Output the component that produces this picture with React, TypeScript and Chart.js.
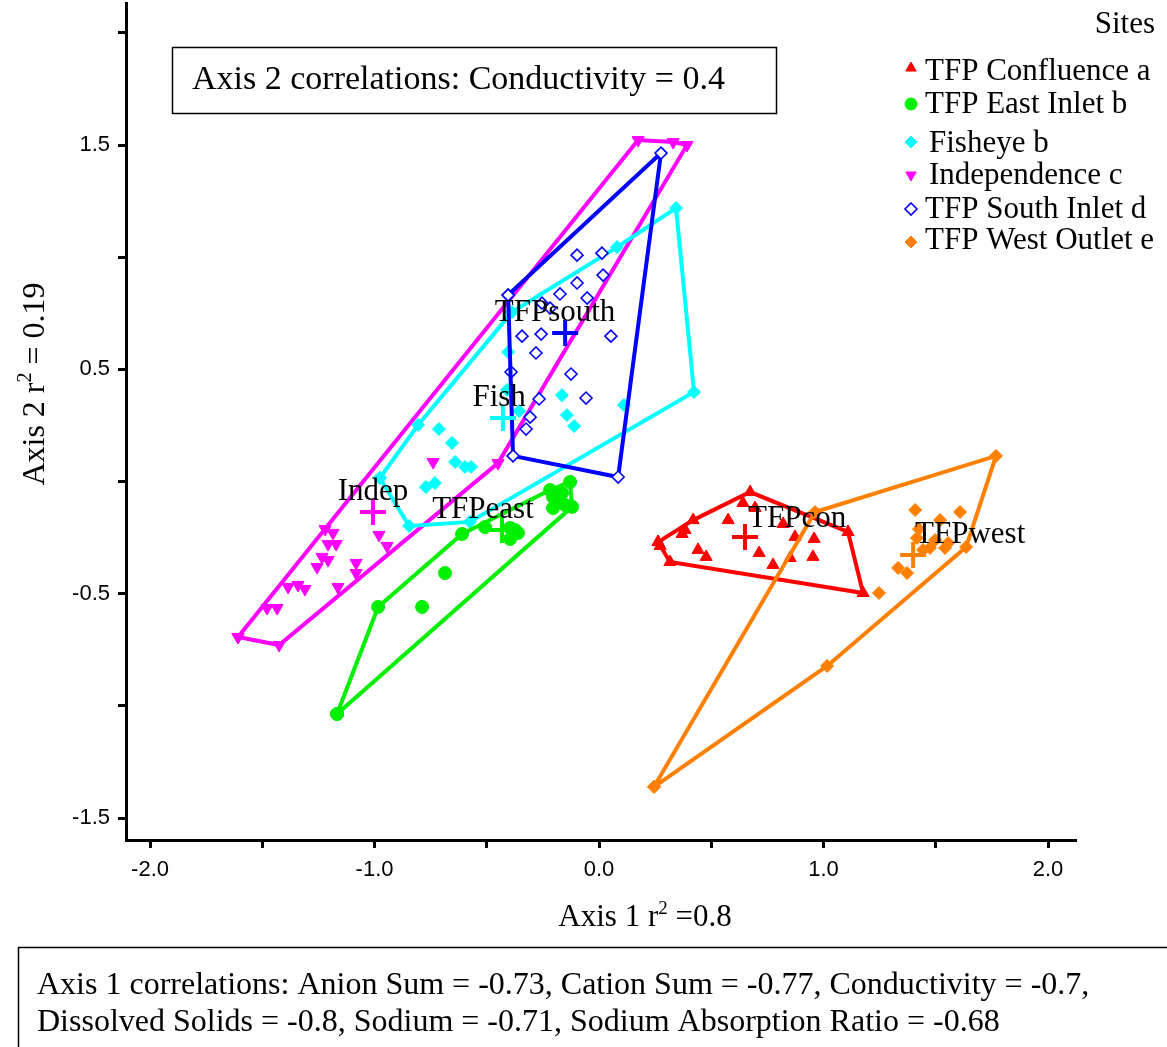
import React, { useEffect, useRef } from 'react';
import { Chart, registerables } from 'chart.js';

Chart.register(...registerables);

// ---------------- data ----------------
type P = [number, number];

const xTicks = [-2, -1.5, -1, -0.5, 0, 0.5, 1, 1.5, 2];
const xTickLabels = ['-2.0', '', '-1.0', '', '0.0', '', '1.0', '', '2.0'];
const yTicks = [-1.5, -1, -0.5, 0, 0.5, 1, 1.5, 2];
const yTickLabels = ['-1.5', '', '-0.5', '', '0.5', '', '1.5', ''];

const siteNames = ['TFP Confluence a', 'TFP East Inlet b', 'Fisheye b', 'Independence c', 'TFP South Inlet d', 'TFP West Outlet e'];
const siteShortLabels = ['TFPcon', 'TFPeast', 'Fish', 'Indep', 'TFPsouth', 'TFPwest'];

// TFP Confluence a
const confluenceHull: P[] = [[0.263, -0.270], [0.316, -0.359], [1.176, -0.497], [1.109, -0.225], [0.673, -0.047], [0.419, -0.172]];
const confluencePts: P[] = [[0.383, -0.216], [0.370, -0.234], [0.575, -0.172], [0.641, -0.096], [0.695, -0.118], [0.441, -0.305], [0.477, -0.336], [0.713, -0.319], [0.775, -0.372], [0.851, -0.341], [0.953, -0.336], [0.873, -0.247], [0.958, -0.256], [0.820, -0.189], [0.272, -0.287]];
const confluenceCentroid: P = [0.650, -0.247];
const confluenceLabelAt: P = [0.882, -0.167];

// TFP East Inlet b
const eastHull: P[] = [[-1.167, -1.036], [-0.984, -0.559], [-0.610, -0.234], [-0.218, -0.038], [-0.129, -0.002], [-0.120, -0.113]];
const eastPts: P[] = [[-0.686, -0.408], [-0.788, -0.559], [-0.508, -0.203], [-0.396, -0.207], [-0.361, -0.229], [-0.396, -0.256], [-0.374, -0.216], [-0.205, -0.069], [-0.187, -0.082], [-0.165, -0.051], [-0.205, -0.118], [-0.151, -0.105]];
const eastCentroid: P = [-0.432, -0.216];
const eastLabelAt: P = [-0.517, -0.127];

// Fisheye b
const fisheyeHull: P[] = [[-0.976, 0.016], [-0.846, -0.198], [-0.575, -0.180], [0.423, 0.399], [0.343, 1.219], [0.080, 1.045], [-0.388, 0.755], [-0.806, 0.252]];
const fisheyePts: P[] = [[-0.713, 0.234], [-0.655, 0.172], [-0.641, 0.087], [-0.597, 0.065], [-0.570, 0.065], [-0.731, -0.007], [-0.771, -0.025], [-0.165, 0.385], [-0.143, 0.296], [-0.111, 0.247], [-0.405, 0.577], [-0.356, 0.314], [-0.410, 0.408], [0.111, 0.341]];
const fisheyeCentroid: P = [-0.428, 0.283];
const fisheyeLabelAt: P = [-0.445, 0.372];

// Independence c
const indepHull: P[] = [[-1.608, -0.693], [-1.425, -0.729], [-0.450, 0.082], [0.392, 1.500], [0.330, 1.513], [0.174, 1.522]];
const indepPts: P[] = [[-1.220, -0.212], [-1.185, -0.229], [-1.207, -0.279], [-1.171, -0.279], [-1.234, -0.336], [-1.207, -0.350], [-1.256, -0.381], [-1.082, -0.363], [-1.082, -0.408], [-1.385, -0.470], [-1.341, -0.461], [-1.310, -0.479], [-1.163, -0.470], [-1.479, -0.564], [-1.434, -0.564], [-0.980, -0.238], [-0.944, -0.287], [-0.739, 0.087]];
const indepCentroid: P = [-1.007, -0.136];
const indepLabelAt: P = [-1.007, -0.047];

// TFP South Inlet d
const southHull: P[] = [[-0.405, 0.831], [0.276, 1.464], [0.085, 0.020], [-0.383, 0.114]];
const southPts: P[] = [[-0.098, 1.009], [0.013, 1.018], [-0.098, 0.885], [0.018, 0.920], [-0.174, 0.836], [-0.053, 0.818], [-0.254, 0.795], [-0.218, 0.773], [-0.343, 0.648], [-0.258, 0.657], [0.053, 0.648], [-0.281, 0.573], [-0.392, 0.488], [-0.125, 0.479], [-0.058, 0.372], [-0.267, 0.368], [-0.307, 0.287], [-0.325, 0.234]];
const southCentroid: P = [-0.151, 0.662];
const southLabelAt: P = [-0.196, 0.751];

// TFP West Outlet e
const westHull: P[] = [[0.245, -1.361], [0.962, -0.136], [1.768, 0.114], [1.635, -0.292], [1.016, -0.822]];
const westPts: P[] = [[1.408, -0.127], [1.608, -0.136], [1.519, -0.172], [1.425, -0.212], [1.416, -0.252], [1.474, -0.296], [1.443, -0.305], [1.555, -0.274], [1.497, -0.261], [1.332, -0.385], [1.372, -0.408], [1.247, -0.497], [1.541, -0.296]];
const westCentroid: P = [1.399, -0.328];
const westLabelAt: P = [1.653, -0.238];

const axis2Note = 'Axis 2 correlations: Conductivity = 0.4';
const axis1NoteLines = [
  'Axis 1 correlations: Anion Sum = -0.73, Cation Sum = -0.77, Conductivity = -0.7,',
  'Dissolved Solids = -0.8, Sodium = -0.71, Sodium Absorption Ratio = -0.68',
];

// ---------------- styling ----------------
const SERIF = '"Liberation Serif", "Times New Roman", serif';
const SANS = '"Liberation Sans", Arial, sans-serif';

type Group = {
  name: string; short: string; color: string; style: string; rotation: number; open: boolean; radius: number;
  hull: P[]; pts: P[]; centroid: P; labelAt: P; order: number;
};

const groups: Group[] = [
  { name: siteNames[0], short: siteShortLabels[0], color: '#ff0000', style: 'triangle', rotation: 0, open: false, radius: 7, hull: confluenceHull, pts: confluencePts, centroid: confluenceCentroid, labelAt: confluenceLabelAt, order: 6 },
  { name: siteNames[1], short: siteShortLabels[1], color: '#00f000', style: 'circle', rotation: 0, open: false, radius: 6.5, hull: eastHull, pts: eastPts, centroid: eastCentroid, labelAt: eastLabelAt, order: 3 },
  { name: siteNames[2], short: siteShortLabels[2], color: '#00ffff', style: 'rectRot', rotation: 0, open: false, radius: 6.5, hull: fisheyeHull, pts: fisheyePts, centroid: fisheyeCentroid, labelAt: fisheyeLabelAt, order: 4 },
  { name: siteNames[3], short: siteShortLabels[3], color: '#ff00ff', style: 'triangle', rotation: 180, open: false, radius: 7, hull: indepHull, pts: indepPts, centroid: indepCentroid, labelAt: indepLabelAt, order: 5 },
  { name: siteNames[4], short: siteShortLabels[4], color: '#0000ff', style: 'rectRot', rotation: 0, open: true, radius: 6, hull: southHull, pts: southPts, centroid: southCentroid, labelAt: southLabelAt, order: 1 },
  { name: siteNames[5], short: siteShortLabels[5], color: '#ff8000', style: 'rectRot', rotation: 0, open: false, radius: 6.5, hull: westHull, pts: westPts, centroid: westCentroid, labelAt: westLabelAt, order: 2 },
];

const toXY = (arr: P[]) => arr.map(([x, y]) => ({ x, y }));

function buildDatasets() {
  const ds: any[] = [];
  groups.forEach((g) => {
    const marker = {
      pointStyle: g.style,
      pointRotation: g.rotation,
      pointRadius: g.radius,
      pointHoverRadius: g.radius,
      pointBackgroundColor: g.open ? '#ffffff' : g.color,
      pointBorderColor: g.color,
      pointBorderWidth: g.open ? 1.6 : 1,
    };
    ds.push({
      label: g.name + ' hull',
      data: toXY([...g.hull, g.hull[0]]),
      showLine: true,
      borderColor: g.color,
      borderWidth: 4,
      backgroundColor: g.color,
      ...marker,
      order: g.order,
    });
    ds.push({
      label: g.name,
      data: toXY(g.pts),
      showLine: false,
      borderColor: g.color,
      backgroundColor: g.color,
      ...marker,
      order: g.order,
    });
    ds.push({
      label: g.name + ' centroid',
      data: toXY([g.centroid]),
      showLine: false,
      pointStyle: 'cross',
      pointRadius: 13,
      pointHoverRadius: 13,
      pointBorderWidth: 4,
      pointBorderColor: g.color,
      borderColor: g.color,
      backgroundColor: g.color,
      order: 0,
    });
  });
  return ds;
}

function drawMarker(ctx: CanvasRenderingContext2D, g: Group, x: number, y: number, r: number) {
  ctx.save();
  ctx.fillStyle = g.open ? '#ffffff' : g.color;
  ctx.strokeStyle = g.color;
  ctx.lineWidth = g.open ? 1.6 : 1;
  ctx.beginPath();
  if (g.style === 'circle') {
    ctx.arc(x, y, r, 0, Math.PI * 2);
  } else if (g.style === 'triangle') {
    const s = g.rotation ? -1 : 1;
    ctx.moveTo(x, y - s * r);
    ctx.lineTo(x + r * 0.866, y + s * r * 0.5);
    ctx.lineTo(x - r * 0.866, y + s * r * 0.5);
    ctx.closePath();
  } else {
    ctx.moveTo(x, y - r);
    ctx.lineTo(x + r, y);
    ctx.lineTo(x, y + r);
    ctx.lineTo(x - r, y);
    ctx.closePath();
  }
  ctx.fill();
  ctx.stroke();
  ctx.restore();
}

function drawSup(ctx: CanvasRenderingContext2D, parts: [string, boolean][], size: number) {
  const supSize = Math.round(size * 0.62);
  const widths = parts.map(([t, sup]) => {
    ctx.font = `${sup ? supSize : size}px ${SERIF}`;
    return ctx.measureText(t).width;
  });
  const total = widths.reduce((a, b) => a + b, 0);
  let x = -total / 2;
  parts.forEach(([t, sup], i) => {
    ctx.font = `${sup ? supSize : size}px ${SERIF}`;
    ctx.fillText(t, x, sup ? -size * 0.4 : 0);
    x += widths[i];
  });
}

const overlayPlugin = {
  id: 'overlay',
  afterDatasetsDraw(chart: any) {
    const ctx: CanvasRenderingContext2D = chart.ctx;
    const xs = chart.scales.x;
    const ys = chart.scales.y;
    ctx.save();
    ctx.fillStyle = '#000';
    ctx.font = `31px ${SERIF}`;
    ctx.textAlign = 'center';
    ctx.textBaseline = 'middle';
    groups.forEach((g) => {
      ctx.fillText(g.short, xs.getPixelForValue(g.labelAt[0]), ys.getPixelForValue(g.labelAt[1]));
    });
    ctx.restore();
  },
  afterDraw(chart: any) {
    const ctx: CanvasRenderingContext2D = chart.ctx;
    ctx.save();
    ctx.fillStyle = '#000';
    ctx.strokeStyle = '#000';
    ctx.textBaseline = 'alphabetic';

    // Axis 2 note box
    ctx.lineWidth = 1.5;
    ctx.strokeRect(172.5, 47.5, 604, 66);
    ctx.font = `34px ${SERIF}`;
    ctx.textAlign = 'left';
    ctx.fillText(axis2Note, 192, 89);

    // Axis 1 note box
    ctx.strokeRect(18.5, 947.5, 1300, 200);
    ctx.font = `32px ${SERIF}`;
    ctx.fillText(axis1NoteLines[0], 37, 994);
    ctx.fillText(axis1NoteLines[1], 37, 1031);

    // Legend
    ctx.font = `31px ${SERIF}`;
    ctx.textAlign = 'right';
    ctx.fillText('Sites', 1155, 33);
    ctx.textAlign = 'left';
    const markerY = [68, 104, 142, 175, 209, 242];
    const textX = [925, 925, 929, 929, 925, 925];
    const textY = [80, 113, 152, 184, 218, 249];
    groups.forEach((g, i) => {
      drawMarker(ctx, g, 911, markerY[i], g.style === 'circle' ? 6 : 6);
      ctx.fillStyle = '#000';
      ctx.font = `31px ${SERIF}`;
      ctx.fillText(g.name, textX[i], textY[i]);
    });

    // Axis titles
    ctx.textAlign = 'left';
    ctx.save();
    ctx.translate(645, 926);
    drawSup(ctx, [['Axis 1 r', false], ['2', true], [' =0.8', false]], 31);
    ctx.restore();
    ctx.save();
    ctx.translate(44, 384);
    ctx.rotate(-Math.PI / 2);
    drawSup(ctx, [['Axis 2 r', false], ['2', true], [' = 0.19', false]], 32);
    ctx.restore();

    ctx.restore();
  },
};

export default function App() {
  const ref = useRef<HTMLCanvasElement | null>(null);
  useEffect(() => {
    if (!ref.current) return;
    const chart = new Chart(ref.current, {
      type: 'scatter',
      data: { datasets: buildDatasets() },
      options: {
        animation: false,
        responsive: false,
        devicePixelRatio: 1,
        events: [],
        layout: { autoPadding: false, padding: { left: 0, top: 3, right: 92, bottom: 100 } },
        elements: { line: { tension: 0 } },
        plugins: { legend: { display: false }, tooltip: { enabled: false }, title: { display: false } },
        scales: {
          x: {
            type: 'linear',
            position: 'bottom',
            min: -2.107,
            max: 2.12,
            afterBuildTicks: (s: any) => { s.ticks = xTicks.map((v) => ({ value: v })); },
            afterFit: (s: any) => { s.height = 107; s.paddingLeft = 0; s.paddingRight = 0; s.paddingTop = 0; s.paddingBottom = 0; },
            ticks: {
              autoSkip: false,
              maxRotation: 0,
              padding: 9,
              color: '#000',
              font: { family: SANS, size: 22 },
              callback: (_v: any, i: number) => xTickLabels[i],
            },
            grid: { display: true, drawOnChartArea: false, drawTicks: true, tickLength: 8, color: '#000', lineWidth: 3 },
            border: { display: true, color: '#000', width: 3 },
          },
          y: {
            type: 'linear',
            position: 'left',
            min: -1.598,
            max: 2.133,
            afterBuildTicks: (s: any) => { s.ticks = yTicks.map((v) => ({ value: v })); },
            afterFit: (s: any) => { s.width = 126; s.paddingLeft = 0; s.paddingRight = 0; s.paddingTop = 0; s.paddingBottom = 0; },
            ticks: {
              autoSkip: false,
              padding: 8,
              color: '#000',
              font: { family: SANS, size: 22 },
              callback: (_v: any, i: number) => yTickLabels[i],
            },
            grid: { display: true, drawOnChartArea: false, drawTicks: true, tickLength: 8, color: '#000', lineWidth: 3 },
            border: { display: true, color: '#000', width: 3 },
          },
        },
      },
      plugins: [overlayPlugin],
    } as any);
    return () => chart.destroy();
  }, []);
  return (
    <div style={{ position: 'absolute', left: 0, top: 0, width: 1167, height: 1047, background: '#fff' }}>
      <canvas ref={ref} width={1167} height={1047} style={{ display: 'block', width: 1167, height: 1047 }} />
    </div>
  );
}
